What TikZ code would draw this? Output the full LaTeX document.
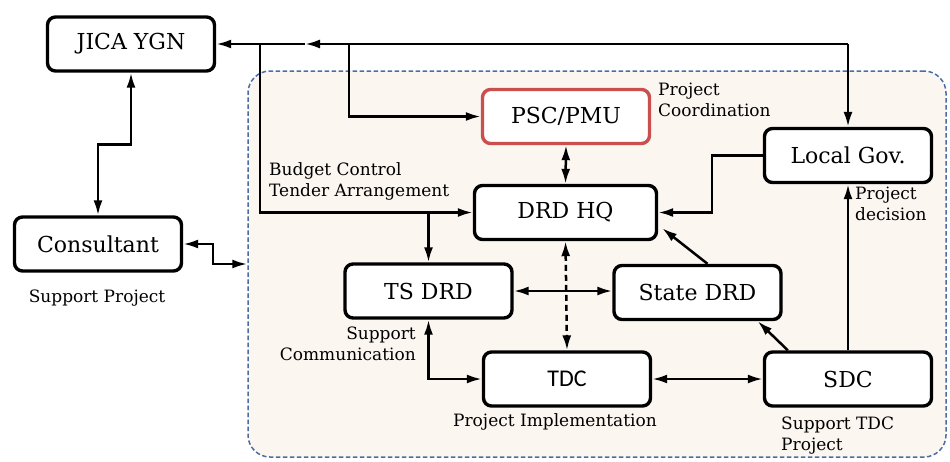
\documentclass[tikz,border=0pt]{standalone}
\usepackage{fontspec}
\setmainfont{DejaVu Serif}
\newfontfamily\boxsans{Carlito}
\usetikzlibrary{arrows.meta}

\definecolor{zonefill}{HTML}{FCF6F1}
\definecolor{zoneline}{HTML}{4A6DA6}
\definecolor{pscred}{HTML}{C9504E}

\begin{document}
\begin{tikzpicture}[x=1pt,y=-1pt,
  unit/.style={draw, line width=3.4pt, rounded corners=8pt, fill=white,
    minimum width=167pt, minimum height=54pt, inner sep=0pt,
    font=\fontsize{22}{24}\selectfont},
  note/.style={font=\fontsize{17}{21}\selectfont, inner sep=0pt},
  head/.tip={Latex[length=15pt,width=9pt]},
  link/.style={line width=2.5pt, -head},
  link2/.style={line width=2.5pt, head-head},
  zone/.style={draw=zoneline, fill=zonefill, line width=1.5pt,
    dash pattern=on 4.5pt off 2.5pt, rounded corners=22pt, inner sep=0pt}]

\useasboundingbox (0,0) rectangle (950,461);

% project area
\node[zone, minimum width=698pt, minimum height=386pt] (zone) at (597,264) {};

% organisations
\node[unit] (jica) at (131,44) {JICA YGN};
\node[unit] (cons) at (98,244) {Consultant};
\node[unit, draw=pscred] (psc) at (566,116.5) {PSC/PMU};
\node[unit] (lgov) at (848,155.5) {Local Gov.};
\node[unit, minimum width=182pt] (drd) at (565.5,212.5) {DRD HQ};
\node[unit] (ts) at (428.5,291) {TS DRD};
\node[unit] (sdrd) at (697.5,292.5) {State DRD};
\node[unit, font=\boxsans\fontsize{24}{26}\selectfont] (tdc) at (567,379) {TDC};
\node[unit] (sdc) at (848,379) {SDC};

% junctions on the top line
\coordinate (tr) at (lgov.north |- jica.east);
\coordinate (mid) at (305,44);
\coordinate (bp) at (349,44);
\coordinate (bb) at (260,44);
\coordinate (bt) at (ts.north |- drd.west);

% connectors
\draw[link] (tr) -- (mid);
\draw[link] (mid) -- (jica.east);
\draw[link] (tr) -- (lgov.north);
\draw[link] (bp) |- (psc.west);
\draw[link] (bb) |- (drd.west);
\draw[link] (bt) -- (ts.north);
\draw[link2] (psc.south) -- (drd.north);
\draw[link] (lgov.west) -- ++(-51,0) |- (drd.east);
\draw[link] (sdc.north) -- (lgov.south);
\draw[link2] (ts.east) -- (ts.east -| sdrd.west);
\draw[link2, dash pattern=on 6pt off 4pt] (drd.south) -- (tdc.north);
\draw[link] ([xshift=10pt]sdrd.north) -- ([xshift=4pt,yshift=13pt]drd.south east);
\draw[link] ([xshift=25pt]sdc.north west) -- ([xshift=-25pt]sdrd.south east);
\draw[link2] (tdc.east) -- (sdc.west);
\draw[link2] (ts.south) |- (tdc.west);
\draw[link2] (jica.south) -- ++(0,72) -| (cons.north);
\draw[link2] (cons.east) -- ++(30,0) |- (zone.west);

% annotations
\node[note, anchor=north west, align=left] (n1) at (658,83) {Project\\Coordination};
\node[note, anchor=north west, align=left] (n2) at (269,162) {Budget Control\\Tender Arrangement};
\node[note, anchor=north west, align=left] (n3) at (855,187) {Project\\decision};
\node[note, anchor=north east, align=right] (n4) at (416,327) {Support\\Communication};
\node[note] (n5) at (555,422) {Project Implementation};
\node[note, anchor=north west, align=left] (n6) at (781,417) {Support TDC\\Project};
\node[note] (n7) at (97,298) {Support Project};
\end{tikzpicture}
\end{document}
